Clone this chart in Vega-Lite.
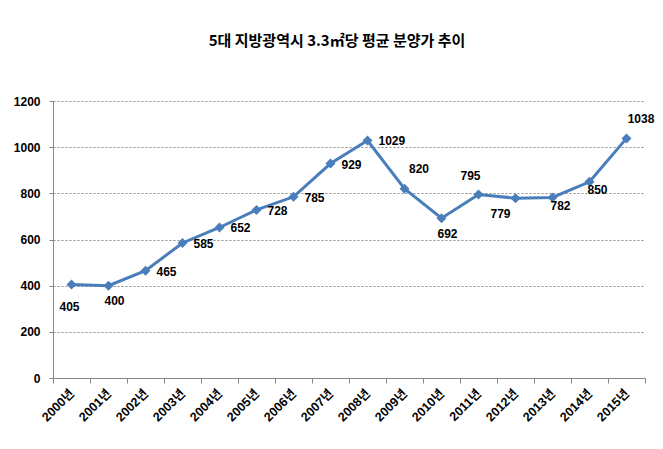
{
  "$schema": "https://vega.github.io/schema/vega-lite/v6.json",
  "autosize": {"type": "none"},
  "width": 592,
  "height": 277,
  "padding": {"left": 53, "top": 101, "right": 18, "bottom": 71},
  "background": "white",
  "title": {
    "text": "5대 지방광역시 3.3㎡당 평균 분양가 추이",
    "font": "Noto Sans CJK KR",
    "fontSize": 15,
    "fontWeight": "bold",
    "color": "black",
    "anchor": "middle",
    "dx": -12,
    "offset": 46
  },
  "data": {
    "values": [
      {"year": "2000년", "price": 405},
      {"year": "2001년", "price": 400},
      {"year": "2002년", "price": 465},
      {"year": "2003년", "price": 585},
      {"year": "2004년", "price": 652},
      {"year": "2005년", "price": 728},
      {"year": "2006년", "price": 785},
      {"year": "2007년", "price": 929},
      {"year": "2008년", "price": 1029},
      {"year": "2009년", "price": 820},
      {"year": "2010년", "price": 692},
      {"year": "2011년", "price": 795},
      {"year": "2012년", "price": 779},
      {"year": "2013년", "price": 782},
      {"year": "2014년", "price": 850},
      {"year": "2015년", "price": 1038}
    ]
  },
  "encoding": {
    "x": {
      "field": "year",
      "type": "ordinal",
      "sort": null,
      "scale": {"paddingInner": 0, "paddingOuter": 0},
      "axis": {
        "title": null,
        "labelAngle": -45,
        "labelAlign": "right",
        "labelBaseline": "middle",
        "labelPadding": 8,
        "labelFontSize": 12.5,
        "tickBand": "extent",
        "tickSize": 5,
        "grid": false
      }
    },
    "y": {
      "field": "price",
      "type": "quantitative",
      "scale": {"domain": [0, 1200], "nice": false},
      "axis": {
        "title": null,
        "format": "d",
        "values": [0, 200, 400, 600, 800, 1000, 1200],
        "tickSize": 4,
        "labelPadding": 9,
        "grid": true,
        "gridColor": "#8a8a8a",
        "gridDash": [2, 2],
        "gridWidth": 1
      }
    }
  },
  "layer": [
    {
      "mark": {
        "type": "line",
        "color": "#4A7EBB",
        "strokeWidth": 3,
        "point": {"shape": "diamond", "size": 100, "filled": true, "color": "#4A7EBB", "opacity": 1}
      }
    },
    {
      "transform": [{"filter": {"field": "year", "oneOf": ["2002년", "2003년", "2004년", "2005년", "2006년", "2007년", "2008년"]}}],
      "mark": {"type": "text", "align": "left", "baseline": "middle", "dx": 11, "dy": 1, "font": "Liberation Sans", "fontSize": 12, "fontWeight": "bold", "color": "black"},
      "encoding": {"text": {"field": "price", "type": "quantitative"}}
    },
    {
      "transform": [{"filter": {"field": "year", "oneOf": ["2000년"]}}],
      "mark": {"type": "text", "align": "center", "baseline": "middle", "dx": -2, "dy": 22, "font": "Liberation Sans", "fontSize": 12, "fontWeight": "bold", "color": "black"},
      "encoding": {"text": {"field": "price", "type": "quantitative"}}
    },
    {
      "transform": [{"filter": {"field": "year", "oneOf": ["2001년", "2010년"]}}],
      "mark": {"type": "text", "align": "center", "baseline": "middle", "dx": 6, "dy": 15.5, "font": "Liberation Sans", "fontSize": 12, "fontWeight": "bold", "color": "black"},
      "encoding": {"text": {"field": "price", "type": "quantitative"}}
    },
    {
      "transform": [{"filter": {"field": "year", "oneOf": ["2009년", "2015년"]}}],
      "mark": {"type": "text", "align": "center", "baseline": "middle", "dx": 14.5, "dy": -19.5, "font": "Liberation Sans", "fontSize": 12, "fontWeight": "bold", "color": "black"},
      "encoding": {"text": {"field": "price", "type": "quantitative"}}
    },
    {
      "transform": [{"filter": {"field": "year", "oneOf": ["2011년"]}}],
      "mark": {"type": "text", "align": "center", "baseline": "middle", "dx": -8, "dy": -18, "font": "Liberation Sans", "fontSize": 12, "fontWeight": "bold", "color": "black"},
      "encoding": {"text": {"field": "price", "type": "quantitative"}}
    },
    {
      "transform": [{"filter": {"field": "year", "oneOf": ["2012년"]}}],
      "mark": {"type": "text", "align": "center", "baseline": "middle", "dx": -15, "dy": 16, "font": "Liberation Sans", "fontSize": 12, "fontWeight": "bold", "color": "black"},
      "encoding": {"text": {"field": "price", "type": "quantitative"}}
    },
    {
      "transform": [{"filter": {"field": "year", "oneOf": ["2013년", "2014년"]}}],
      "mark": {"type": "text", "align": "center", "baseline": "middle", "dx": 8, "dy": 8.5, "font": "Liberation Sans", "fontSize": 12, "fontWeight": "bold", "color": "black"},
      "encoding": {"text": {"field": "price", "type": "quantitative"}}
    }
  ],
  "config": {
    "view": {"stroke": null},
    "axis": {
      "labelFont": "Liberation Sans, Noto Sans CJK KR",
      "labelFontSize": 12,
      "labelFontWeight": "bold",
      "labelColor": "black",
      "domainColor": "#868686",
      "tickColor": "#868686",
      "domainWidth": 1
    }
  }
}
